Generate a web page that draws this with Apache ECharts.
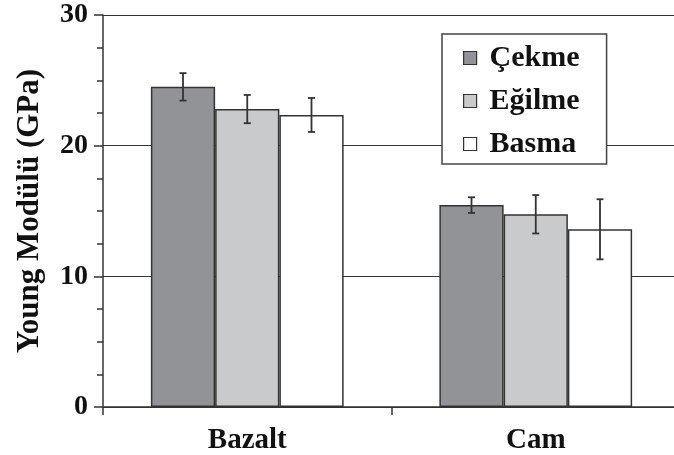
<!DOCTYPE html>
<html>
<head>
<meta charset="utf-8">
<script src="https://cdn.jsdelivr.net/npm/echarts@6/dist/echarts.min.js"></script>
<style>
html,body{margin:0;padding:0;background:#fff;}
#main{width:674px;height:455px;}
</style>
</head>
<body>
<div id="main"></div>
<script>
const categories = ['Bazalt', 'Cam'];
const seriesNames = ['Çekme', 'Eğilme', 'Basma'];
const cekme = [24.5, 15.45];
const egilme = [22.8, 14.75];
const basma = [22.35, 13.6];
const cekmeErr = [1.05, 0.6];
const egilmeErr = [1.08, 1.47];
const basmaErr = [1.3, 2.3];
const yTicks = [0, 10, 20, 30];

const FONT = '"Liberation Serif", "Times New Roman", serif';
const BAR_FRAC = 0.2227;
const barColors = ['#929396', '#c9cacc', '#ffffff'];
const values = [cekme, egilme, basma];
const errors = [cekmeErr, egilmeErr, basmaErr];

const chart = echarts.init(document.getElementById('main'));

const barSeries = seriesNames.map((name, i) => ({
  name: name,
  type: 'bar',
  data: values[i],
  barWidth: (BAR_FRAC * 100) + '%',
  barGap: '0%',
  itemStyle: { color: barColors[i], borderColor: '#333', borderWidth: 1.5 },
  z: 2
}));

const errSeries = seriesNames.map((name, i) => ({
  name: name + '_err',
  type: 'custom',
  z: 5,
  data: categories.map((c, ci) => [ci, values[i][ci], errors[i][ci]]),
  encode: { x: 0, y: 1 },
  renderItem: function (params, api) {
    const ci = api.value(0);
    const v = api.value(1);
    const e = api.value(2);
    const band = api.size([1, 0])[0];
    const bw = band * BAR_FRAC;
    const x = api.coord([ci, v])[0] + (i - 1) * bw;
    const top = api.coord([ci, v + e])[1];
    const bot = api.coord([ci, v - e])[1];
    const cap = 3.5;
    const style = { stroke: '#333', lineWidth: 1.8 };
    return {
      type: 'group',
      children: [
        { type: 'line', shape: { x1: x, y1: top, x2: x, y2: bot }, style: style },
        { type: 'line', shape: { x1: x - cap, y1: top, x2: x + cap, y2: top }, style: style },
        { type: 'line', shape: { x1: x - cap, y1: bot, x2: x + cap, y2: bot }, style: style }
      ]
    };
  }
}));

chart.setOption({
  animation: false,
  backgroundColor: '#fff',
  grid: { left: 103, top: 15, width: 577, height: 392, containLabel: false, outerBoundsMode: 'none' },
  legend: {
    data: seriesNames,
    orient: 'vertical',
    left: 442,
    top: 34,
    padding: [9, 27, 5, 21],
    itemWidth: 13,
    itemHeight: 13,
    itemGap: 13,
    backgroundColor: '#fff',
    borderColor: '#444',
    borderWidth: 1.5,
    selectedMode: false,
    icon: 'rect',
    itemStyle: { borderColor: '#333', borderWidth: 1.2 },
    textStyle: { fontFamily: FONT, fontWeight: 'bold', fontSize: 30, color: '#111', lineHeight: 30, padding: [0, 0, 0, 8] },
    z: 10
  },
  xAxis: {
    type: 'category',
    data: categories,
    axisLine: { lineStyle: { color: '#333', width: 1.5 } },
    axisTick: { show: true, length: 8, lineStyle: { color: '#333', width: 1.5 } },
    axisLabel: { fontFamily: FONT, fontWeight: 'bold', fontSize: 29, color: '#111', margin: 19 }
  },
  yAxis: {
    type: 'value',
    min: 0,
    max: 30,
    interval: 10,
    name: 'Young Modülü (GPa)',
    nameLocation: 'middle',
    nameRotate: 90,
    nameGap: 58,
    nameTextStyle: { fontFamily: FONT, fontWeight: 'bold', fontSize: 31, color: '#111' },
    axisLine: { show: true, lineStyle: { color: '#333', width: 1.5 } },
    axisTick: { show: true, length: 9, lineStyle: { color: '#333', width: 1.5 } },
    minorTick: { show: true, splitNumber: 4, length: 6, lineStyle: { color: '#333', width: 1.5 } },
    splitLine: { show: true, lineStyle: { color: '#333', width: 1.2 } },
    axisLabel: { fontFamily: FONT, fontWeight: 'bold', fontSize: 28, color: '#111', margin: 15,
      formatter: function (v) { return yTicks.indexOf(v) >= 0 ? String(v) : ''; } }
  },
  series: barSeries.concat(errSeries)
});
</script>
</body>
</html>
